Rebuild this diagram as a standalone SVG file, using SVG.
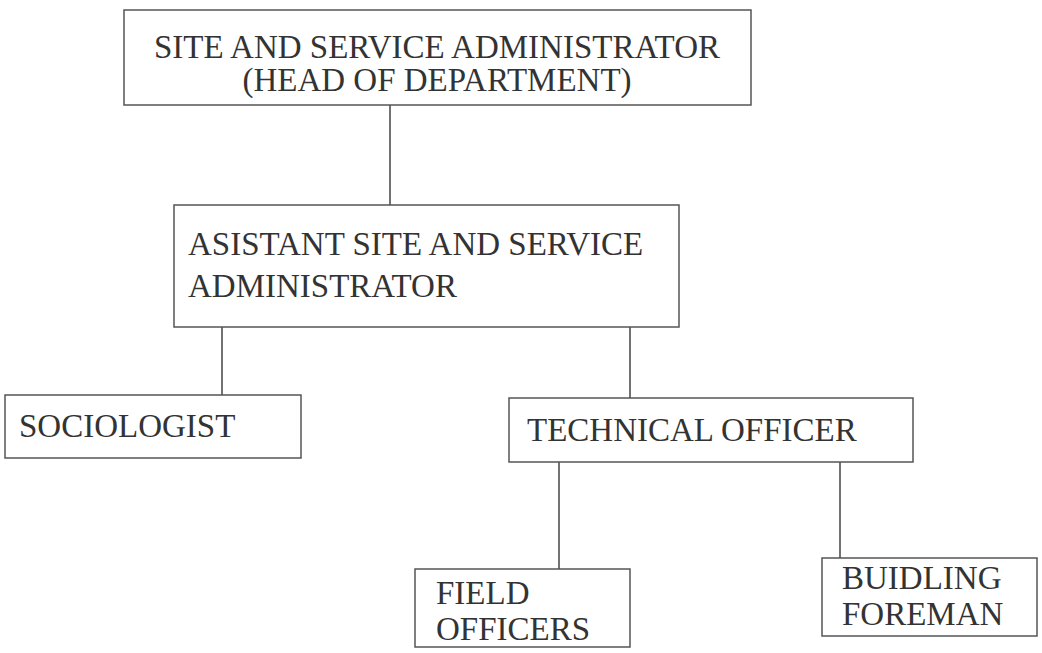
<svg xmlns="http://www.w3.org/2000/svg" width="1042" height="653" viewBox="0 0 1042 653">
<style>
.box{fill:none;stroke:#555;stroke-width:1.5}
.ln{stroke:#444;stroke-width:1.5;fill:none}
text{font-family:"Liberation Serif","Times New Roman",serif;font-size:33px;fill:#333}
</style>
<rect width="1042" height="653" fill="#fff"/>
<g id="connectors">
<line class="ln" x1="390" y1="105" x2="390" y2="205"/>
<line class="ln" x1="222" y1="327" x2="222" y2="395"/>
<line class="ln" x1="630" y1="327" x2="630" y2="398"/>
<line class="ln" x1="559" y1="462" x2="559" y2="569"/>
<line class="ln" x1="840" y1="462" x2="840" y2="558"/>
</g>
<g id="head">
<rect class="box" x="124" y="10" width="627" height="95"/>
<text x="437" y="58" text-anchor="middle">SITE AND SERVICE ADMINISTRATOR</text>
<text x="437" y="91" text-anchor="middle">(HEAD OF DEPARTMENT)</text>
</g>
<g id="assistant">
<rect class="box" x="174" y="205" width="505" height="122"/>
<text x="188" y="255">ASISTANT SITE AND SERVICE</text>
<text x="188" y="297">ADMINISTRATOR</text>
</g>
<g id="sociologist">
<rect class="box" x="5" y="395" width="296" height="63"/>
<text x="19" y="437">SOCIOLOGIST</text>
</g>
<g id="technical">
<rect class="box" x="509" y="398" width="404" height="64"/>
<text x="527" y="441">TECHNICAL OFFICER</text>
</g>
<g id="field">
<rect class="box" x="415" y="569" width="215" height="78"/>
<text x="436" y="604">FIELD</text>
<text x="436" y="640">OFFICERS</text>
</g>
<g id="foreman">
<rect class="box" x="822" y="558" width="215" height="78"/>
<text x="842" y="589">BUIDLING</text>
<text x="842" y="625">FOREMAN</text>
</g>
</svg>
